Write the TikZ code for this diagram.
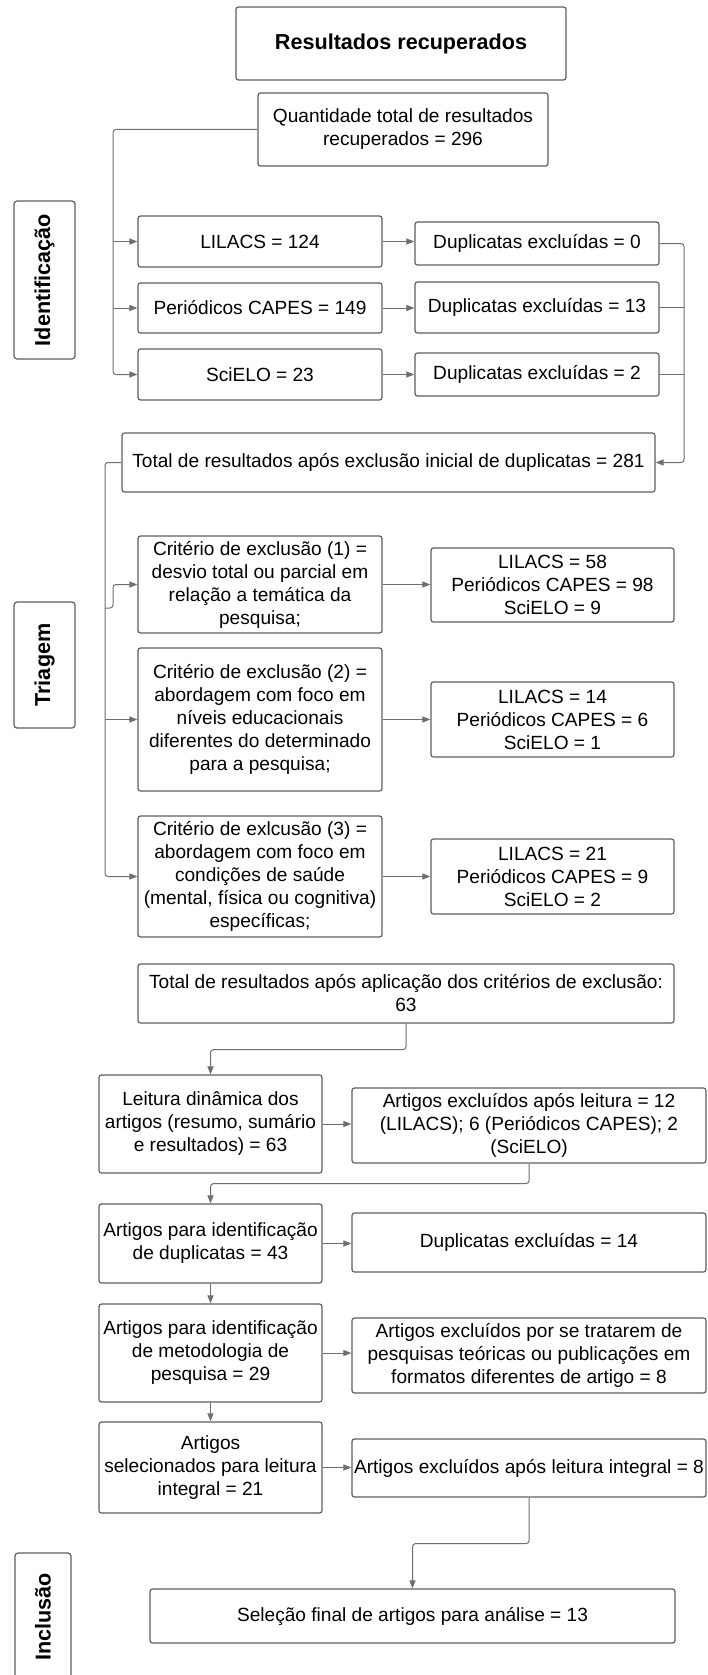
\documentclass[tikz,border=0pt]{standalone}
\usepackage{fontspec}
\setmainfont{Liberation Sans}
\usepackage{tikz}
\usetikzlibrary{arrows.meta}
\definecolor{cinzaborda}{HTML}{5E5E5E}
\definecolor{cinzalinha}{HTML}{6E6E6E}
\tikzset{
	caixa/.style={draw=cinzaborda, line width=1.2pt, rounded corners=2.5pt, align=center, inner sep=1pt, font=\fontsize{19.1}{23}\selectfont},
	etapa/.style={draw=cinzaborda, line width=1.2pt, rounded corners=3pt, rotate=90, inner sep=1pt, font=\bfseries\fontsize{21.6}{26}\selectfont},
	linha/.style={draw=cinzalinha, line width=1pt, rounded corners=3pt},
	seta/.style={linha, -{Triangle[length=8pt,width=6pt,fill=cinzalinha]}}
}
\begin{document}
\begin{tikzpicture}[x=1pt, y=-1pt]
	\useasboundingbox (0,0) rectangle (707,1675);
	\fill[white] (0,0) rectangle (707,1675);
	
	\node[etapa, minimum width=158, minimum height=61] (ident) at (44.5,280) {Identificação};
	\node[etapa, minimum width=126, minimum height=61] (triagem) at (44.5,665) {Triagem};
	\node[etapa, minimum width=128, minimum height=56] (inclusao) at (43,1617) {Inclusão};
	
	\node[caixa, minimum width=330, minimum height=73, font=\bfseries\fontsize{21.6}{26}\selectfont] (titulo) at (401,43.5) {Resultados recuperados};
	\node[caixa, minimum width=290, minimum height=73] (quant) at (403,129.5) {Quantidade total de resultados\\recuperados = 296};
	
	\node[caixa, minimum width=244, minimum height=51] (lil) at (260,241.5) {LILACS = 124};
	\node[caixa, minimum width=244, minimum height=50] (per) at (260,308) {Periódicos CAPES = 149};
	\node[caixa, minimum width=244, minimum height=51] (sci) at (260,374.5) {SciELO = 23};
	\node[caixa, minimum width=244, minimum height=43] (dupA) at (537,243.5) {Duplicatas excluídas = 0};
	\node[caixa, minimum width=244, minimum height=51] (dupB) at (537,307.5) {Duplicatas excluídas = 13};
	\node[caixa, minimum width=244, minimum height=43] (dupC) at (537,374.5) {Duplicatas excluídas = 2};
	\node[caixa, minimum width=533, minimum height=59] (totalA) at (388.5,462.5) {Total de resultados após exclusão inicial de duplicatas = 281};
	
	\node[caixa, minimum width=244, minimum height=97] (critA) at (260,584.5) {Critério de exclusão (1) =\\desvio total ou parcial em\\relação a temática da\\pesquisa;};
	\node[caixa, minimum width=244, minimum height=143] (critB) at (260,719.5) {Critério de exclusão (2) =\\abordagem com foco em\\níveis educacionais\\diferentes do determinado\\para a pesquisa;};
	\node[caixa, minimum width=244, minimum height=121] (critC) at (260,876.5) {Critério de exlcusão (3) =\\abordagem com foco em\\condições de saúde\\(mental, física ou cognitiva)\\específicas;};
	\node[caixa, minimum width=243, minimum height=74] (resA) at (552.5,585) {LILACS = 58\\Periódicos CAPES = 98\\SciELO = 9};
	\node[caixa, minimum width=243, minimum height=75] (resB) at (552.5,719.5) {LILACS = 14\\Periódicos CAPES = 6\\SciELO = 1};
	\node[caixa, minimum width=243, minimum height=75] (resC) at (552.5,876.5) {LILACS = 21\\Periódicos CAPES = 9\\SciELO = 2};
	\node[caixa, minimum width=536, minimum height=59] (totalB) at (406,993.5) {Total de resultados após aplicação dos critérios de exclusão:\\63};
	
	\node[caixa, minimum width=223, minimum height=98] (leitura) at (210.5,1124) {Leitura dinâmica dos\\artigos (resumo, sumário\\e resultados) = 63};
	\node[caixa, minimum width=354, minimum height=75] (excA) at (529,1125.5) {Artigos excluídos após leitura = 12\\(LILACS); 6 (Periódicos CAPES); 2\\(SciELO)};
	\node[caixa, minimum width=223, minimum height=79] (artA) at (210.5,1243.5) {Artigos para identificação\\de duplicatas = 43};
	\node[caixa, minimum width=354, minimum height=59] (dupD) at (529,1242.5) {Duplicatas excluídas = 14};
	\node[caixa, minimum width=223, minimum height=98] (artB) at (210.5,1353) {Artigos para identificação\\de metodologia de\\pesquisa = 29};
	\node[caixa, minimum width=354, minimum height=75] (excB) at (529,1355.5) {Artigos excluídos por se tratarem de\\pesquisas teóricas ou publicações em\\formatos diferentes de artigo = 8};
	\node[caixa, minimum width=223, minimum height=91] (artC) at (210.5,1467.5) {Artigos\\selecionados para leitura\\integral = 21};
	\node[caixa, minimum width=354, minimum height=58] (excC) at (529,1468) {Artigos excluídos após leitura integral = 8};
	\node[caixa, minimum width=525, minimum height=54] (final) at (412.5,1616) {Seleção final de artigos para análise = 13};
	
	\coordinate (troncoA) at (113,0);
	\coordinate (troncoB) at (684,0);
	\coordinate (troncoC) at (105,0);
	\coordinate (desvio) at (105,608);
	
	\draw[seta] (quant.west) -- (quant.west -| troncoA) |- (sci.west);
	\draw[seta] (lil.west -| troncoA) -- (lil.west);
	\draw[seta] (per.west -| troncoA) -- (per.west);
	\draw[seta] (lil.east) -- (lil.east -| dupA.west);
	\draw[seta] (per.east) -- (per.east -| dupB.west);
	\draw[seta] (sci.east) -- (sci.east -| dupC.west);
	\draw[seta] (dupA.east) -- (dupA.east -| troncoB) |- (totalA.east);
	\draw[linha] (dupB.east) -- (dupB.east -| troncoB);
	\draw[linha] (dupC.east) -- (dupC.east -| troncoB);
	
	\draw[seta] (totalA.west) -- (totalA.west -| troncoC) |- (critC.west);
	\draw[seta] (critB.west -| troncoC) -- (critB.west);
	\draw[seta] (desvio) -- ++(8,0) |- (critA.west);
	\draw[seta] (critA.east) -- (critA.east -| resA.west);
	\draw[seta] (critB.east) -- (critB.east -| resB.west);
	\draw[seta] (critC.east) -- (critC.east -| resC.west);
	
	\draw[seta] (totalB.south) -- ++(0,26) -| (leitura.north);
	\draw[seta] (leitura.east) -- (leitura.east -| excA.west);
	\draw[seta] (excA.south) -- ++(0,20) -| (artA.north);
	\draw[seta] (artA.east) -- (artA.east -| dupD.west);
	\draw[seta] (artA.south) -- (artB.north);
	\draw[seta] (artB.east) -- (artB.east -| excB.west);
	\draw[seta] (artB.south) -- (artC.north);
	\draw[seta] (artC.east) -- (artC.east -| excC.west);
	\draw[seta] (excC.south) -- ++(0,46) -| (final.north);
\end{tikzpicture}
\end{document}
